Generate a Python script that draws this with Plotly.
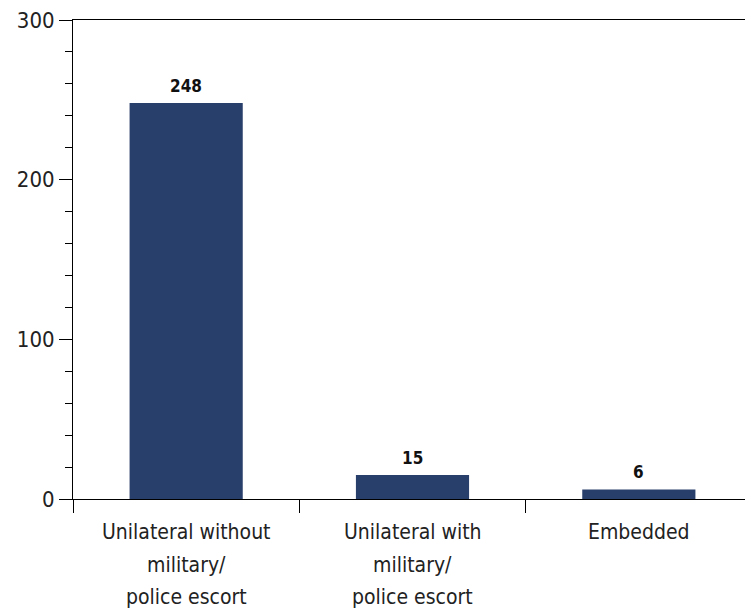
import plotly.graph_objects as go

categories = ["Unilateral without<br>military/<br>police escort",
              "Unilateral with<br>military/<br>police escort",
              "Embedded"]
values = [248, 15, 6]
y_tickvals = [0, 100, 200, 300]

bar_color = "#283f6b"
font_family = "DejaVu Sans Condensed, Liberation Sans Narrow, Roboto, sans-serif"

fig = go.Figure(go.Bar(
    x=categories, y=values,
    marker=dict(color=bar_color, line=dict(width=0)),
    width=0.5,
))

# value labels above bars
for cat, v in zip(categories, values):
    fig.add_annotation(
        x=cat, y=v, xref="x", yref="y", yanchor="middle", yshift=17,
        text=f"<b>{v}</b>", showarrow=False,
        font=dict(size=17, color="#111111", family=font_family),
    )

# x-axis category labels, one annotation per line for the wider line spacing
line_shifts = [-33, -66, -98]
for cat in categories:
    for i, line in enumerate(cat.split("<br>")):
        fig.add_annotation(
            x=cat, xref="x", y=0, yref="paper", yanchor="middle",
            yshift=line_shifts[i], text=line, showarrow=False,
            font=dict(size=21, color="#222222", family=font_family),
        )

fig.update_layout(
    width=745, height=606,
    margin=dict(l=65, r=1, t=12, b=115),
    plot_bgcolor="white", paper_bgcolor="white",
    showlegend=False,
    font=dict(family=font_family, size=21, color="#222222"),
)
fig.update_xaxes(
    type="category", tickson="boundaries", ticks="outside", ticklen=13,
    tickcolor="black", showline=True, linecolor="black", linewidth=1,
    mirror=True, showgrid=False, showticklabels=False, automargin=False,
)
fig.update_yaxes(
    range=[0, 300], tickvals=y_tickvals, ticks="outside", ticklen=13,
    tickcolor="black", showline=True, linecolor="black", linewidth=1,
    mirror=True, showgrid=False, zeroline=False, tickfont=dict(size=22),
    automargin=False, ticklabeloverflow="allow",
    minor=dict(dtick=20, ticks="outside", ticklen=7, tickcolor="black", showgrid=False),
)

fig.write_html("out.html")
